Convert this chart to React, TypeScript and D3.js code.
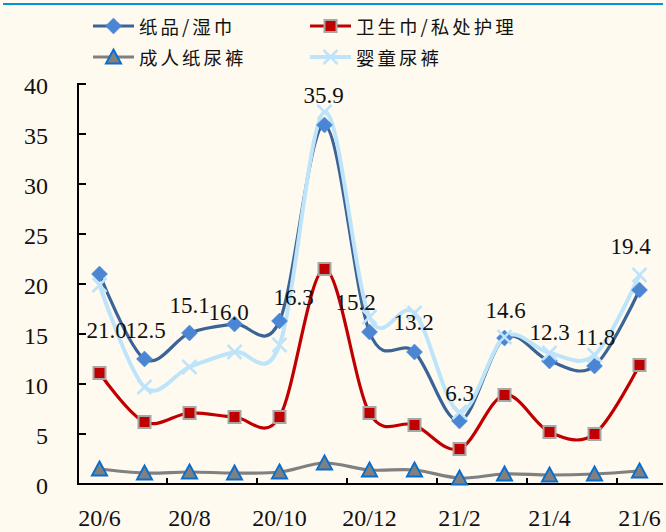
import React from "react";
import * as d3 from "d3";

const categories = ["20/6","20/7","20/8","20/9","20/10","20/11","20/12","21/1","21/2","21/3","21/4","21/5","21/6"];
const paperWipes = [21.0,12.5,15.1,16.0,16.3,35.9,15.2,13.2,6.3,14.6,12.3,11.8,19.4];
const sanitaryCare = [11.1,6.2,7.1,6.7,6.7,21.5,7.1,5.9,3.5,8.9,5.2,5.0,11.9];
const adultDiapers = [1.5,1.1,1.2,1.1,1.2,2.1,1.4,1.4,0.6,1.0,0.9,1.0,1.3];
const babyDiapers = [19.9,9.7,11.7,13.2,13.9,37.2,16.7,17.1,7.2,14.7,13.1,12.9,20.9];
const yTicks = [0,5,10,15,20,25,30,35,40];
const seriesNames = ["纸品/湿巾","卫生巾/私处护理","成人纸尿裤","婴童尿裤"];
// label offsets (style) relative to point, px
const labelDx = [7,1,0,-6,14,-1,-14,-1,0,1,0,1,-9];
const labelDy = [56,-29,-28,-12,-24,-30,-30,-30,-28,-28,-29,-29,-44];

const W = 666, H = 532;
const serif = "'Liberation Serif','Times New Roman',serif";
const cjk = "'Noto Sans CJK SC',sans-serif";

export default function App() {
  const x = d3.scalePoint<string>().domain(categories).range([77, 662]).padding(0.5);
  const step = x.step();
  const y = d3.scaleLinear().domain([0, 40]).range([484, 84]);
  const line = d3.line<number>()
    .x((_, i) => x(categories[i])!)
    .y((d) => y(d))
    .curve(d3.curveCatmullRom.alpha(0));

  const styles = [
    { data: paperWipes, stroke: "#3B6396", width: 3.2 },
    { data: sanitaryCare, stroke: "#C00000", width: 3.2 },
    { data: adultDiapers, stroke: "#808080", width: 3.2 },
    { data: babyDiapers, stroke: "#BEE4FA", width: 4 },
  ];

  const marker = (k: number, cx: number, cy: number, key: string) => {
    if (k === 0) {
      const r = 8;
      return <path key={key} d={`M${cx},${cy - r}L${cx + r},${cy}L${cx},${cy + r}L${cx - r},${cy}Z`} fill="#4A86D4" stroke="#4A86D4" strokeWidth={0.5} />;
    }
    if (k === 1) {
      const s = 12;
      return <rect key={key} x={cx - s / 2} y={cy - s / 2} width={s} height={s} fill="#C00000" stroke="#A6A6A6" strokeWidth={2} />;
    }
    if (k === 2) {
      const r = 7.5;
      return <path key={key} d={`M${cx},${cy - r}L${cx + r},${cy + r * 0.85}L${cx - r},${cy + r * 0.85}Z`} fill="#808080" stroke="#0A6FCC" strokeWidth={2} />;
    }
    const r = 7;
    return <path key={key} d={`M${cx - r},${cy - r}L${cx + r},${cy + r}M${cx + r},${cy - r}L${cx - r},${cy + r}`} stroke="#BEE4FA" strokeWidth={2.5} fill="none" />;
  };

  const tickXs = categories.slice(0, -1).map((c, i) => ({ i, xv: x(c)! + step / 2 })).filter((t) => t.i % 2 === 1);

  return (
    <div style={{ position: "fixed", left: 0, top: 0 }}>
      <svg width={W} height={H} style={{ display: "block", background: "#FEFAF0" }}>
        <rect x={0} y={0} width={W} height={H} fill="#FEFAF0" />
        <line x1={3} x2={663} y1={4} y2={4} stroke="#0095D6" strokeWidth={2.2} />

        {/* legend */}
        {seriesNames.map((name, k) => {
          const lx = k % 2 === 0 ? 93 : 310;
          const ly = k < 2 ? 26 : 57;
          return (
            <g key={name}>
              <line x1={lx} x2={lx + 41} y1={ly} y2={ly} stroke={styles[k].stroke} strokeWidth={styles[k].width} />
              {marker(k, lx + 20.5, ly, "lm" + k)}
              <text x={lx + 46} y={ly} dominantBaseline="central" fontFamily={cjk} fontSize={18.5} letterSpacing={3} fill="#111">{name}</text>
            </g>
          );
        })}

        {/* axes */}
        <line x1={78} x2={78} y1={y(40) - 1} y2={y(0)} stroke="#000" strokeWidth={2} />
        <line x1={77} x2={663} y1={y(0)} y2={y(0)} stroke="#000" strokeWidth={2} />
        {yTicks.map((t) => (
          <g key={t}>
            <line x1={78} x2={86} y1={y(t)} y2={y(t)} stroke="#000" strokeWidth={2} />
            <text x={48} y={y(t) + 2} textAnchor="end" dominantBaseline="central" fontFamily={serif} fontSize={24} fill="#111">{t}</text>
          </g>
        ))}
        {tickXs.map((t) => (
          <line key={t.i} x1={t.xv} x2={t.xv} y1={y(0)} y2={y(0) - 6} stroke="#000" strokeWidth={2} />
        ))}
        {categories.map((c, i) => i % 2 === 0 ? (
          <text key={c} x={x(c)!} y={526} textAnchor="middle" fontFamily={serif} fontSize={24} fill="#111">{c}</text>
        ) : null)}

        {/* lines */}
        {styles.map((s, k) => (
          <path key={k} d={line(s.data)!} fill="none" stroke={s.stroke} strokeWidth={s.width} />
        ))}
        {/* markers */}
        {styles.map((s, k) => (
          <g key={"m" + k}>
            {s.data.map((v, i) => marker(k, x(categories[i])!, y(v), `m${k}-${i}`))}
          </g>
        ))}

        {/* data labels */}
        {paperWipes.map((v, i) => (
          <text key={"l" + i} x={x(categories[i])! + labelDx[i]} y={y(v) + labelDy[i]} textAnchor="middle" dominantBaseline="central" fontFamily={serif} fontSize={23} fill="#111">{v.toFixed(1)}</text>
        ))}
      </svg>
    </div>
  );
}
